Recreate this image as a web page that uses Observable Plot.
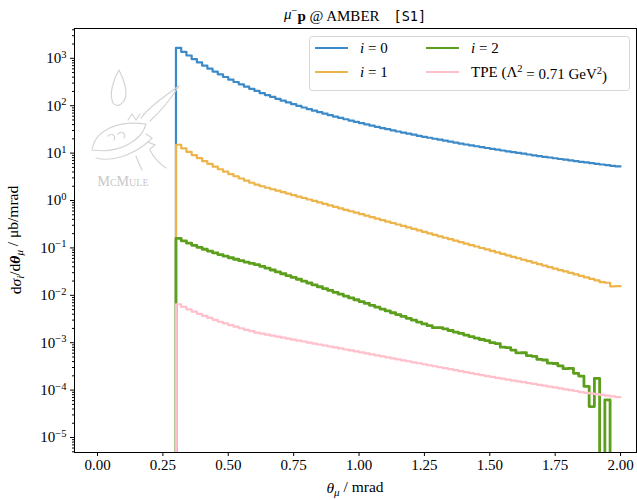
<!DOCTYPE html>
<html><head><meta charset="utf-8">
<script src="https://cdn.jsdelivr.net/npm/d3@7"></script>
<script src="https://cdn.jsdelivr.net/npm/@observablehq/plot@0.6"></script>
<style>
body{margin:0;background:#fff}
#chart{width:637px;height:500px;position:relative}
</style>
</head><body><div id="chart"></div>
<script>
// bin edges in theta_mu [mrad]: 85 bins of 0.02 from 0.30 to 2.00
const binLo = 0.30, binW = 0.02, binCount = 85;
const edges = d3.range(0, binCount + 1).map(k => +(binLo + k * binW).toFixed(2));

// i = 0 (LO), dσ/dθ in µb/mrad per bin
const seriesI0 = [1667,1373,1145,963,819,701,605,525,459,403,355,316,282,252,227,205,184,168,153,139.5,127.7,117.1,107.7,99.3,91.7,84.8,78.6,73.0,68.0,63.3,59.1,55.3,51.8,48.5,45.6,42.8,40.3,37.9,35.8,33.8,32.0,30.2,28.6,27.1,25.8,24.5,23.2,22.1,21.1,20.1,19.2,18.3,17.4,16.7,15.9,15.2,14.6,13.95,13.38,12.83,12.30,11.80,11.34,10.90,10.49,10.09,9.71,9.35,9.00,8.67,8.36,8.08,7.79,7.52,7.27,7.02,6.79,6.56,6.36,6.14,5.94,5.75,5.58,5.40,5.24];
// i = 1
const seriesI1 = [15.0,12.6,10.65,9.10,7.82,6.77,5.90,5.18,4.57,4.06,3.61,3.25,2.91,2.63,2.37,2.17,2.00,1.86,1.73,1.61,1.50,1.40,1.30,1.21,1.13,1.05,0.978,0.910,0.848,0.789,0.735,0.684,0.637,0.593,0.553,0.515,0.479,0.445,0.414,0.386,0.360,0.335,0.312,0.291,0.271,0.252,0.235,0.218,0.203,0.189,0.176,0.164,0.153,0.142,0.132,0.123,0.115,0.107,0.0996,0.0928,0.0863,0.0804,0.0748,0.0696,0.0649,0.0605,0.0563,0.0524,0.0488,0.0454,0.0423,0.0394,0.0367,0.0341,0.0319,0.0296,0.0276,0.0257,0.0239,0.0223,0.0207,0.0189,0.0184,0.0155,0.0156];
// i = 2 (noisy tail; empty / negative bins given as 0)
const seriesI2 = [0.1587,0.1410,0.1263,0.1136,0.1030,0.0937,0.0856,0.0785,0.0723,0.0668,0.0620,0.0577,0.0537,0.0502,0.0471,0.0443,0.0409,0.0374,0.0342,0.0312,0.0285,0.0261,0.0238,0.0218,0.0199,0.0182,0.0166,0.01516,0.01387,0.01267,0.01158,0.01058,0.00966,0.00882,0.00807,0.00738,0.00673,0.00615,0.00562,0.00513,0.00469,0.00429,0.00392,0.00358,0.00327,0.00299,0.00273,0.00249,0.00229,0.00208,0.00209,0.00195,0.00181,0.00168,0.00157,0.00145,0.00135,0.00125,0.00117,0.00111,0.00100,0.000959,0.000806,0.000787,0.000699,0.000610,0.000614,0.000533,0.000517,0.000445,0.000432,0.000372,0.000364,0.000326,0.000283,0.000287,0.000226,0.000198,0.000120,0.000045,0.000177,0,0.000062,0,0];
// two-photon exchange, Λ² = 0.71 GeV²
const seriesTPE = [0.00648,0.00569,0.00506,0.00451,0.00406,0.00367,0.00333,0.00304,0.00277,0.00255,0.00236,0.00218,0.00202,0.00187,0.00176,0.00164,0.00155,0.00148,0.00141,0.00134,0.00128,0.00122,0.00116,0.00111,0.00106,0.001007,0.000960,0.000916,0.000873,0.000832,0.000794,0.000757,0.000720,0.000687,0.000655,0.000624,0.000594,0.000566,0.000540,0.000515,0.000491,0.000468,0.000447,0.000425,0.000406,0.000386,0.000369,0.000351,0.000335,0.000319,0.000304,0.000291,0.000276,0.000264,0.000251,0.000239,0.000229,0.000218,0.000207,0.000198,0.000190,0.000181,0.000174,0.000167,0.000159,0.000153,0.000147,0.000141,0.000135,0.000129,0.000124,0.000119,0.000114,0.000109,0.000104,0.0000999,0.0000957,0.0000910,0.0000878,0.0000848,0.0000826,0.0000791,0.0000764,0.0000738,0.0000712];

const seriesColors = ["#3d8ac8", "#edb44a", "#5b9f1c", "#ffc0cb"];
const seriesWidths = [2.2, 2.2, 2.8, 2.2];
const seriesValues = [seriesI0, seriesI1, seriesI2, seriesTPE];

const xTicks = [0, 0.25, 0.5, 0.75, 1.0, 1.25, 1.5, 1.75, 2.0];
const yTicks = [1e-5, 1e-4, 1e-3, 1e-2, 1e-1, 1, 10, 100, 1000];
const yTickExp = ["−5", "−4", "−3", "−2", "−1", "0", "1", "2", "3"];
const yDomain = [4.83e-6, 4254];
const yMinor = [];
for (let e = -6; e <= 3; e++) for (let m = 2; m <= 9; m++) {
  const v = m * Math.pow(10, e);
  if (v >= yDomain[0] && v <= yDomain[1]) yMinor.push(v);
}

const belowAxis = 1e-9; // zero / negative bins fall off the log axis
function stepData(vals) {
  const last = vals[vals.length - 1];
  const pts = [{x: edges[0], y: belowAxis}];
  vals.forEach((v, k) => pts.push({x: edges[k], y: v > 0 ? v : belowAxis}));
  pts.push({x: edges[edges.length - 1], y: last > 0 ? last : belowAxis});
  return pts;
}

const serif = "'Liberation Serif', 'DejaVu Serif', serif";
const chart = Plot.plot({
  width: 637, height: 500,
  marginTop: 28, marginBottom: 48, marginLeft: 74, marginRight: 1,
  style: {fontFamily: serif, fontSize: "15px", background: "white", color: "black"},
  x: {domain: [-0.088, 2.061]},
  y: {type: "log", domain: yDomain},
  marks: [
    Plot.axisX({ticks: xTicks, tickFormat: d => d.toFixed(2), tickSize: 4, tickPadding: 3, label: null}),
    Plot.axisY({ticks: yMinor, tickSize: 2, tickFormat: () => "", label: null}),
    Plot.axisY({ticks: yTicks, tickSize: 4, tickPadding: 4, tickFormat: d => "10^" + yTickExp[yTicks.indexOf(d)], label: null}),
    ...seriesValues.map((vals, i) => Plot.line(stepData(vals), {
      x: "x", y: "y", curve: "step-after", stroke: seriesColors[i],
      strokeWidth: seriesWidths[i], clip: true
    })),
    Plot.frame({stroke: "black", strokeWidth: 1})
  ]
});
document.getElementById("chart").appendChild(chart);

const svg = d3.select(chart);
// superscript exponents on the y tick labels
svg.selectAll("text").each(function() {
  const t = d3.select(this);
  const s = t.text();
  if (/^10\^/.test(s)) {
    const exp = s.slice(3);
    t.text("10");
    t.append("tspan").attr("dy", "-0.5em").attr("font-size", "10.5px").text(exp);
  }
});

// title
const title = svg.append("text").attr("x", 355).attr("y", 19).attr("text-anchor", "middle")
  .attr("font-family", serif).attr("font-size", "15px");
title.append("tspan").attr("font-style", "italic").text("μ");
title.append("tspan").attr("dy", "-0.45em").attr("font-size", "10.5px").text("−");
title.append("tspan").attr("dy", "0.45em").attr("font-weight", "bold").text("p");
title.append("tspan").text(" @ AMBER");
title.append("tspan").attr("font-family", "'DejaVu Sans Mono', monospace").attr("font-size", "13.5px").attr("dx", "14").text("[S1]");

// x label
const xl = svg.append("text").attr("x", 355).attr("y", 493).attr("text-anchor", "middle")
  .attr("font-family", serif).attr("font-size", "15.5px");
xl.append("tspan").attr("font-style", "italic").text("θ");
xl.append("tspan").attr("font-style", "italic").attr("font-size", "11px").attr("dy", "0.3em").text("μ");
xl.append("tspan").attr("dy", "-0.3em").text(" / mrad");

// y label
const yl = svg.append("text").attr("transform", "translate(21,240) rotate(-90)").attr("text-anchor", "middle")
  .attr("font-family", serif).attr("font-size", "15.5px");
yl.append("tspan").text("d");
yl.append("tspan").attr("font-style", "italic").text("σ");
yl.append("tspan").attr("font-style", "italic").attr("font-size", "11px").attr("dy", "0.3em").text("i");
yl.append("tspan").attr("dy", "-0.3em").text("/d");
yl.append("tspan").attr("font-style", "italic").attr("font-weight", "bold").text("θ");
yl.append("tspan").attr("font-style", "italic").attr("font-size", "11px").attr("dy", "0.3em").text("μ");
yl.append("tspan").attr("dy", "-0.3em").text(" / μb/mrad");

// McMule watermark (sketch)
const wm = svg.append("g").attr("fill", "none").attr("stroke", "#d4d4d4").attr("stroke-width", 1.2)
  .attr("stroke-linecap", "round");
wm.append("path").attr("d", "M119,70 C113,80 109,94 113,103 C117,109 126,103 126,93 C126,84 122,76 119,70 Z");
wm.append("path").attr("d", "M179,86 C166,95 150,106 141,118 M179,86 C170,100 160,112 150,121");
wm.append("path").attr("d", "M92,150 C95,130 118,120 146,124 C142,140 120,154 92,150 Z");
wm.append("path").attr("d", "M96,158 C110,162 132,156 148,142 M108,136 C112,132 116,136 114,140 M118,134 C122,130 126,134 124,138");
wm.append("path").attr("d", "M146,134 L152,138 L148,142 L155,145 L150,149 M128,120 L132,114 L136,120 L140,114");
wm.append("path").attr("d", "M150,150 C154,158 160,164 166,168 M136,156 C138,162 140,166 142,170");
svg.append("text").attr("x", 123).attr("y", 186).attr("text-anchor", "middle")
  .attr("font-family", serif).attr("font-size", "14px").attr("fill", "#c8c8c8")
  .style("font-variant", "small-caps").text("McMule");

// legend
const lg = svg.append("g").attr("font-family", serif).attr("font-size", "15px").attr("text-anchor", "start");
lg.append("rect").attr("x", 309.5).attr("y", 36.5).attr("width", 320).attr("height", 54).attr("rx", 3)
  .attr("fill", "white").attr("fill-opacity", 0.85).attr("stroke", "#d6d6d6");
const legendItems = [
  {i: 0, col: 0, row: 0}, {i: 1, col: 0, row: 1}, {i: 2, col: 1, row: 0}, {i: 3, col: 1, row: 1}
];
legendItems.forEach(({i, col, row}) => {
  const x0 = col === 0 ? 315 : 426, y0 = row === 0 ? 48 : 72;
  lg.append("line").attr("x1", x0).attr("x2", x0 + 33).attr("y1", y0).attr("y2", y0)
    .attr("stroke", seriesColors[i]).attr("stroke-width", 2.2);
  const t = lg.append("text").attr("x", x0 + 45).attr("y", y0 + 5).attr("text-anchor", "start");
  if (i < 3) {
    t.append("tspan").attr("font-style", "italic").text("i");
    t.append("tspan").text(" = " + i);
  } else {
    t.append("tspan").text("TPE (Λ");
    t.append("tspan").attr("dy", "-0.45em").attr("font-size", "10.5px").text("2");
    t.append("tspan").attr("dy", "0.45em").text(" = 0.71 GeV");
    t.append("tspan").attr("dy", "-0.45em").attr("font-size", "10.5px").text("2");
    t.append("tspan").attr("dy", "0.45em").text(")");
  }
});
</script>
</body></html>
